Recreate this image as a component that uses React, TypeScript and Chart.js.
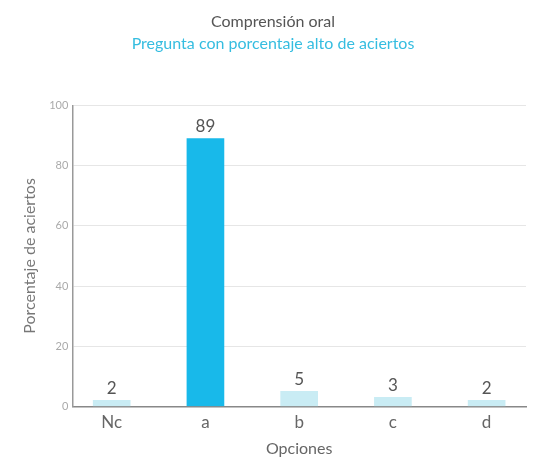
import React, { useEffect, useRef } from "react";
import { Chart, registerables } from "chart.js";

Chart.register(...registerables);

const categories = ["Nc", "a", "b", "c", "d"];
const values = [2, 89, 5, 3, 2];
const barColors = ["#c9ecf4", "#18b9ea", "#c9ecf4", "#c9ecf4", "#c9ecf4"];
const yTicks = [0, 20, 40, 60, 80, 100];
const titleText = "Comprensión oral";
const subtitleText = "Pregunta con porcentaje alto de aciertos";
const yTitle = "Porcentaje de aciertos";
const xTitle = "Opciones";

const valueLabels = {
  id: "valueLabels",
  afterDatasetsDraw(chart: any) {
    const ctx = chart.ctx;
    const meta = chart.getDatasetMeta(0);
    ctx.save();
    ctx.font = "17px Lato, sans-serif";
    ctx.fillStyle = "#555555";
    ctx.textAlign = "center";
    ctx.textBaseline = "bottom";
    meta.data.forEach((bar: any, i: number) => {
      ctx.fillText(String(values[i]), bar.x, bar.y - 3);
    });
    ctx.restore();
  },
};

export default function App() {
  const ref = useRef<HTMLCanvasElement>(null);
  useEffect(() => {
    if (!ref.current) return;
    const chart = new Chart(ref.current, {
      type: "bar",
      data: {
        datasets: [
          {
            data: values.map((v, i) => ({ x: i, y: v })),
            backgroundColor: barColors,
            barThickness: 37,
          },
        ],
      },
      plugins: [valueLabels],
      options: {
        animation: false,
        responsive: false,
        maintainAspectRatio: false,
        layout: { padding: { left: 12, right: 3, top: 0, bottom: 5 } },
        plugins: {
          legend: { display: false },
          tooltip: { enabled: false },
          title: {
            display: true,
            text: titleText,
            color: "#555555",
            font: { family: "Lato, sans-serif", size: 16, weight: "normal" },
            padding: { top: 4, bottom: 3 },
          },
          subtitle: {
            display: true,
            text: subtitleText,
            color: "#35bde0",
            font: { family: "Lato, sans-serif", size: 16, weight: "normal" },
            padding: { top: 0, bottom: 52 },
          },
        },
        scales: {
          x: {
            type: "linear",
            min: -0.42,
            max: 4.42,
            offset: false,
            afterBuildTicks: (axis: any) => {
              axis.ticks = categories.map((_, i) => ({ value: i }));
            },
            grid: { display: false, drawTicks: false },
            border: { color: "#888888", width: 1.5 },
            ticks: {
              color: "#666666",
              font: { family: "Lato, sans-serif", size: 17 },
              padding: 6,
              callback: (v: any) => categories[Math.round(Number(v))] ?? "",
            },
            title: {
              display: true,
              text: xTitle,
              color: "#666666",
              font: { family: "Lato, sans-serif", size: 16 },
              padding: { top: 0, bottom: 0 },
            },
          },
          y: {
            min: 0,
            max: 100,
            afterBuildTicks: (axis: any) => {
              axis.ticks = yTicks.map((v) => ({ value: v }));
            },
            grid: { color: "#e6e6e6", drawTicks: false },
            border: { color: "#999999", width: 1.5 },
            ticks: {
              color: "#aaaaaa",
              font: { family: "Lato, sans-serif", size: 11 },
              padding: 4,
            },
            title: {
              display: true,
              text: yTitle,
              color: "#777777",
              font: { family: "Lato, sans-serif", size: 16 },
              padding: { top: 0, bottom: 6 },
            },
          },
        },
      },
    });
    return () => chart.destroy();
  }, []);
  return (
    <div style={{ width: 521, height: 455 }}>
      <canvas ref={ref} width={521} height={455} style={{ width: 521, height: 455 }} />
    </div>
  );
}
